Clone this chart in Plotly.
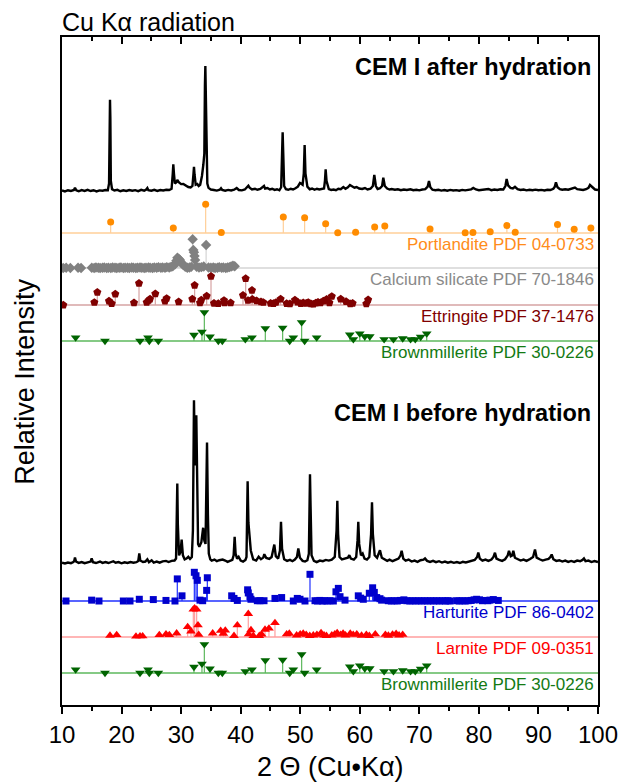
import plotly.graph_objects as go

# ---------------- DATA ----------------
# XRD patterns: (2theta [deg], relative intensity, strongest peak = 100)
after_pattern = [
    (10.0, 0.5), (10.5, -0.3), (11.0, 0.6), (11.5, 0.0), (12.0, 0.8), (12.18, 2.6), (12.4, 0.5), (12.8, -0.2),
    (13.3, 0.7), (13.8, 0.1), (14.3, 0.9), (14.8, 0.0), (15.3, 0.6), (15.8, -0.3), (16.3, 0.5), (16.8, 0.2),
    (17.3, 0.8), (17.7, 0.6), (17.9, 6), (18.0, 60), (18.06, 73), (18.12, 58), (18.2, 8), (18.4, 1.5),
    (18.8, 0.4), (19.3, 0.9), (19.8, -0.2), (20.3, 0.6), (20.8, 0.0), (21.3, 0.8), (21.8, 0.2), (22.3, 0.7),
    (22.8, -0.1), (23.3, 0.9), (23.8, 0.3), (24.1, 1.0), (24.33, 2.4), (24.5, 0.6), (25.0, 0.2), (25.5, 0.9),
    (26.0, 0.1), (26.5, 0.8), (27.0, 0.4), (27.5, 1.0), (28.0, 0.8), (28.4, 1.8), (28.6, 14), (28.69, 21.4),
    (28.8, 14), (28.95, 6), (29.2, 7), (29.36, 8.8), (29.6, 7), (30.0, 5.5), (30.37, 5.6), (30.8, 4.0),
    (31.2, 3.2), (31.6, 2.8), (31.9, 4), (32.08, 14), (32.16, 19.4), (32.26, 13), (32.45, 5), (32.72, 5.6),
    (32.95, 4), (33.2, 5), (33.5, 12), (33.73, 21), (33.9, 30), (34.0, 85), (34.07, 100), (34.14, 80),
    (34.25, 20), (34.4, 6), (34.6, 2.5), (35.0, 1.2), (35.5, 0.8), (36.0, 0.3), (36.5, 1.0), (36.7, 2.2),
    (36.9, 0.8), (37.4, 0.2), (37.9, 0.9), (38.4, 0.4), (38.9, 1.0), (39.33, 2.4), (39.7, 0.8), (40.2, 0.5),
    (40.7, 1.2), (41.1, 3.0), (41.29, 4.2), (41.5, 2.6), (41.9, 1.2), (42.4, 1.8), (42.8, 1.0), (43.3, 1.6),
    (43.7, 2.8), (43.92, 4.0), (44.1, 2.0), (44.5, 2.4), (44.9, 1.2), (45.3, 1.8), (45.7, 0.9), (46.1, 1.4),
    (46.5, 0.6), (46.8, 3), (46.95, 30), (47.05, 47), (47.15, 30), (47.3, 4), (47.6, 1.5), (48.0, 1.0),
    (48.4, 1.8), (48.8, 1.2), (49.2, 2.2), (49.6, 3.5), (49.96, 6.5), (50.15, 6.0), (50.4, 5), (50.6, 14),
    (50.74, 36.8), (50.88, 14), (51.2, 3.5), (51.6, 1.4), (52.0, 2.0), (52.4, 1.0), (52.8, 1.8), (53.2, 1.2),
    (53.6, 1.6), (54.0, 2.0), (54.15, 8), (54.27, 17.4), (54.42, 8), (54.8, 1.5), (55.2, 0.8), (55.6, 1.2),
    (56.0, 0.6), (56.4, 1.8), (56.8, 1.4), (57.24, 3.2), (57.6, 1.8), (58.0, 3.0), (58.35, 4.8), (58.7, 3.6),
    (59.1, 2.6), (59.47, 3.2), (59.9, 2.0), (60.4, 1.6), (60.87, 2.4), (61.3, 1.2), (61.8, 1.8), (62.2, 4),
    (62.44, 12.8), (62.7, 4), (63.0, 1.6), (63.4, 2.2), (63.75, 4), (63.95, 10.6), (64.2, 4), (64.6, 2.0),
    (65.0, 1.2), (65.35, 1.6), (65.9, 1.0), (66.4, 1.4), (66.9, 0.6), (67.4, 1.2), (67.9, 0.8), (68.5, 1.4),
    (69.0, 0.6), (69.5, 1.0), (70.0, 0.5), (70.5, 1.2), (71.0, 1.5), (71.4, 3.5), (71.62, 8.0), (71.85, 3),
    (72.2, 1.0), (72.7, 0.6), (73.2, 1.0), (73.7, 0.3), (74.2, 0.8), (74.7, 0.2), (75.2, 0.9), (75.7, 0.4),
    (76.2, 0.7), (76.7, 0.2), (77.2, 0.9), (77.7, 0.5), (78.2, 1.0), (78.7, 1.3), (79.06, 2.4), (79.5, 1.2),
    (80.0, 0.6), (80.5, 1.0), (81.0, 0.8), (81.6, 1.6), (82.1, 0.7), (82.6, 1.2), (83.1, 0.8), (83.6, 1.4),
    (84.1, 1.2), (84.45, 4), (84.66, 9.6), (84.9, 4.5), (85.3, 2.5), (85.7, 2.0), (86.06, 3.4), (86.5, 1.5),
    (87.0, 0.8), (87.5, 1.2), (88.0, 0.5), (88.5, 1.0), (89.0, 0.6), (89.5, 1.1), (90.0, 0.6), (90.5, 0.9),
    (91.0, 0.4), (91.5, 1.0), (92.0, 0.8), (92.5, 1.8), (92.75, 3.5), (92.94, 7.0), (93.2, 3), (93.6, 1.4),
    (94.0, 1.0), (94.5, 1.4), (95.0, 1.0), (95.5, 1.6), (95.9, 2.2), (96.13, 2.7), (96.5, 1.5), (97.0, 1.2),
    (97.5, 0.8), (98.0, 1.4), (98.4, 2.5), (98.65, 4.8), (99.0, 3.2), (99.5, 1.2), (100.0, 0.8),
]

before_pattern = [
    (10.0, 0.5), (10.5, 0.0), (11.0, 0.6), (11.5, 0.2), (11.9, 0.9), (12.05, 1.6), (12.18, 3.7), (12.35, 1.2),
    (12.8, 0.4), (13.3, 0.9), (13.8, 0.2), (14.3, 0.7), (14.8, 1.2), (14.98, 3.1), (15.2, 0.8), (15.7, 0.3),
    (16.2, 0.8), (16.38, 1.2), (16.8, 0.4), (17.3, 0.9), (17.8, 0.3), (18.3, 0.8), (18.62, 1.4), (19.0, 0.5),
    (19.5, 0.9), (20.0, 0.1), (20.5, 0.7), (21.0, 0.3), (21.5, 0.9), (22.0, 0.5), (22.5, 0.8), (22.8, 1.5),
    (22.98, 6.1), (23.15, 1.8), (23.6, 0.9), (24.0, 1.2), (24.33, 2.6), (24.6, 0.8), (25.05, 2.0), (25.4, 0.6),
    (25.9, 1.2), (26.4, 0.5), (26.9, 1.3), (27.46, 1.6), (27.9, 0.9), (28.4, 1.6), (28.9, 1.8), (29.15, 3.0),
    (29.28, 25), (29.36, 49), (29.45, 24), (29.65, 5), (29.9, 7), (30.09, 14.7), (30.3, 5), (30.6, 2.5),
    (30.9, 3.0), (31.21, 4.1), (31.5, 2.8), (31.8, 4), (31.98, 20), (32.08, 80), (32.16, 100), (32.26, 75),
    (32.4, 60), (32.55, 90.8), (32.7, 40), (32.85, 12), (33.06, 10.2), (33.4, 13), (33.7, 21.9), (33.9, 14),
    (34.1, 12), (34.22, 40), (34.35, 74.1), (34.5, 30), (34.65, 6), (34.9, 2.5), (35.13, 1.8), (35.6, 2.4),
    (36.0, 1.4), (36.4, 2.0), (36.98, 2.4), (37.4, 1.8), (37.8, 1.0), (38.2, 1.6), (38.6, 2.2), (38.82, 5),
    (38.99, 16.3), (39.15, 6), (39.4, 3), (39.66, 4.1), (40.0, 1.8), (40.4, 1.2), (40.8, 2.2), (40.98, 4),
    (41.08, 25), (41.17, 50.4), (41.3, 25), (41.5, 15.3), (41.7, 8), (42.1, 2.5), (42.6, 1.8), (43.02, 4.1),
    (43.4, 2.6), (43.8, 3.6), (43.97, 5.7), (44.3, 3.4), (44.8, 2.8), (45.2, 4.0), (45.48, 9), (45.65, 11.6),
    (45.9, 4.5), (46.3, 3.0), (46.6, 8), (46.77, 25.5), (46.95, 9), (47.3, 2.6), (47.8, 1.6), (48.28, 2.2),
    (48.7, 1.4), (49.1, 2.4), (49.45, 4), (49.68, 9.2), (49.95, 3.5), (50.4, 1.6), (50.8, 1.2), (51.2, 2.0),
    (51.45, 6), (51.56, 35), (51.64, 54.7), (51.74, 35), (51.9, 5), (52.3, 1.6), (52.76, 0.8), (53.3, 1.8),
    (53.8, 1.4), (54.3, 2.2), (54.8, 1.8), (55.3, 2.4), (55.8, 4), (56.1, 20), (56.23, 38.4), (56.36, 18),
    (56.6, 4), (57.0, 2.5), (57.5, 3.2), (58.0, 3.5), (58.24, 5.1), (58.5, 3.0), (59.0, 2.4), (59.4, 4),
    (59.62, 14), (59.75, 25.5), (59.9, 12), (60.2, 5), (60.48, 6.1), (60.8, 3.0), (61.2, 2.4), (61.6, 4),
    (61.9, 18), (62.05, 37.5), (62.2, 18), (62.5, 5), (62.9, 3.5), (63.39, 8.1), (63.7, 3.5), (64.1, 2.5),
    (64.6, 1.6), (65.0, 2.4), (65.5, 1.4), (66.0, 2.2), (66.5, 3), (66.85, 5), (67.03, 7.8), (67.3, 3.0),
    (67.7, 1.8), (68.2, 2.4), (68.7, 1.2), (69.2, 1.8), (69.7, 1.0), (70.2, 2.0), (70.7, 2.4), (70.95, 3.1),
    (71.3, 1.6), (71.8, 1.0), (72.3, 1.6), (72.8, 0.8), (73.3, 1.4), (73.8, 0.6), (74.3, 1.2), (74.8, 0.5),
    (75.3, 1.0), (75.8, 0.4), (76.3, 0.9), (76.8, 0.3), (77.3, 1.0), (77.8, 0.6), (78.3, 1.2), (78.8, 1.6),
    (79.3, 2.2), (79.7, 4), (79.9, 6.7), (80.15, 3), (80.6, 1.8), (81.1, 2.4), (81.6, 1.6), (82.1, 2.4),
    (82.45, 4), (82.7, 6.6), (82.95, 3), (83.4, 2.2), (83.9, 1.6), (84.4, 2.6), (84.85, 5), (85.05, 7.8),
    (85.35, 4.5), (85.6, 5), (85.78, 7.8), (86.05, 3.5), (86.5, 2.6), (87.0, 1.8), (87.5, 2.4), (88.0, 1.6),
    (88.6, 2.8), (89.1, 4), (89.42, 8.6), (89.7, 3.6), (90.2, 2.6), (90.7, 1.8), (91.2, 2.4), (91.7, 2.8),
    (92.0, 4), (92.22, 5.5), (92.5, 2.6), (93.0, 1.6), (93.5, 2.0), (94.0, 1.2), (94.5, 1.8), (95.0, 1.0),
    (95.5, 1.6), (96.0, 1.0), (96.5, 1.8), (97.0, 1.4), (97.4, 2.2), (97.64, 3.1), (97.9, 1.4), (98.4, 1.8),
    (98.9, 0.9), (99.4, 1.5), (100.0, 0.9),
]

# Reference stick patterns: (2theta [deg], relative intensity %)
portlandite = [
    (18.17, 38), (28.69, 17), (34.12, 100), (36.75, 2), (47.16, 56), (50.74, 53), (54.27, 32), (56.3, 1),
    (59.3, 3), (62.5, 21), (64.2, 24), (71.8, 14), (77.7, 1), (79.0, 2), (81.9, 4), (84.7, 26), (86.1, 3),
    (93.2, 30), (96.0, 13), (98.8, 17),
]
calcium_silicate = [
    (10.2, 0), (10.7, 1), (11.4, 0), (12.7, 1), (13.2, 0), (15.0, 1), (15.4, 0), (15.7, 2), (16.1, 1),
    (16.4, 0), (16.8, 1), (17.1, 2), (17.5, 0), (17.8, 1), (18.2, 0), (18.5, 2), (18.9, 1), (19.2, 0),
    (19.6, 1), (19.9, 2), (20.3, 0), (20.6, 1), (21.0, 1), (21.3, 0), (21.7, 2), (22.0, 1), (22.4, 0),
    (22.7, 1), (23.1, 2), (23.4, 1), (23.8, 0), (24.1, 1), (24.5, 2), (24.8, 1), (25.2, 0), (25.5, 2),
    (25.9, 1), (26.2, 3), (26.6, 1), (26.9, 2), (27.3, 1), (27.6, 3), (28.0, 2), (28.3, 4), (28.6, 6),
    (28.97, 13), (29.2, 25), (29.37, 36), (29.6, 32), (29.8, 28), (30.1, 18), (30.37, 10), (30.7, 4),
    (31.04, 1), (31.4, 2), (31.7, 4), (31.94, 100), (32.05, 63), (32.15, 55), (32.25, 42), (32.35, 28),
    (32.6, 4), (33.0, 2), (33.4, 3), (33.8, 5), (34.2, 80), (34.6, 2), (35.0, 1), (35.4, 2), (35.7, 0),
    (36.1, 1), (36.4, 3), (36.8, 1), (37.1, 2), (37.5, 0), (37.8, 2), (38.1, 3), (38.4, 5), (38.7, 8),
    (39.0, 6),
]
ettringite = [
    (10.22, 0), (15.43, 9), (15.93, 44), (17.89, 14), (18.34, 5), (18.95, 38), (22.09, 8), (22.93, 76),
    (24.22, 9), (24.55, 16), (24.78, 21), (25.67, 39), (27.29, 14), (27.57, 23), (29.59, 11), (31.88, 21),
    (32.27, 69), (33.17, 8), (33.39, 17), (34.29, 31), (35.02, 100), (35.52, 6), (36.25, 5), (37.2, 16),
    (37.31, 8), (38.32, 8), (40.39, 34), (40.84, 92), (41.23, 16), (41.9, 51), (41.96, 20), (42.68, 15),
    (43.41, 11), (43.8, 9), (45.03, 6), (45.5, 5), (45.93, 9), (46.71, 21), (47.72, 5), (48.27, 4),
    (49.11, 17), (49.56, 10), (50.1, 5), (50.51, 8), (51.0, 6), (51.35, 9), (51.8, 4), (52.2, 3),
    (52.6, 7), (52.98, 10), (53.4, 8), (53.88, 14), (54.44, 20), (54.9, 8), (55.3, 30), (56.8, 21),
    (57.7, 12), (58.4, 4), (58.8, 6), (61.1, 4), (61.4, 18),
]
brownmillerite = [
    (12.29, 12), (17.22, 0), (23.1, 0), (24.44, 12), (24.66, 0), (26.17, 0), (32.16, 21), (33.5, 32),
    (33.9, 100), (34.85, 15), (36.25, 0), (36.92, 0), (40.78, 6), (41.9, 12), (44.14, 44), (47.05, 46),
    (48.23, 0), (48.84, 12), (50.24, 65), (50.74, 0), (52.76, 12), (58.32, 22), (58.92, 6), (60.0, 26),
    (60.84, 16), (61.68, 16), (64.09, 6), (65.65, 6), (67.21, 9), (68.53, 6), (69.32, 6), (70.22, 14),
    (71.24, 26),
]
harturite = [
    (10.67, 0), (14.98, 3), (16.21, 0), (20.3, 0), (21.42, 0), (22.98, 6), (25.33, 5), (27.46, 2),
    (28.97, 0), (29.36, 77), (30.15, 18), (32.22, 100), (32.5, 88), (32.72, 72), (33.17, 3), (33.62, 1),
    (34.29, 37), (34.4, 81), (38.49, 18), (38.88, 9), (39.44, 2), (41.17, 39), (41.28, 28), (41.56, 15),
    (41.73, 6), (42.8, 1), (43.24, 1), (43.92, 1), (45.76, 9), (46.88, 12), (48.84, 0), (49.51, 9),
    (49.96, 6), (50.8, 0), (51.64, 93), (52.48, 1), (52.9, 0), (53.3, 2), (53.7, 0), (54.1, 1), (54.5, 0),
    (55.0, 1), (55.56, 0), (56.0, 32), (56.4, 44), (56.68, 15), (57.52, 3), (59.75, 18), (60.15, 10),
    (60.59, 6), (61.6, 27), (62.16, 46), (62.44, 30), (62.84, 12), (63.39, 8), (63.67, 3), (64.79, 1),
    (65.3, 0), (65.8, 1), (66.3, 0), (66.8, 2), (67.4, 4), (67.9, 1), (68.4, 0), (68.9, 1), (69.4, 0),
    (69.9, 1), (70.4, 0), (70.9, 1), (71.4, 0), (71.9, 1), (72.4, 0), (72.9, 1), (73.4, 0), (73.9, 1),
    (74.4, 0), (74.8, 1), (75.14, 0), (76.26, 1), (76.7, 0), (77.2, 1), (77.7, 0), (78.2, 1), (78.7, 2),
    (79.2, 4), (79.62, 6), (80.1, 4), (80.6, 1), (81.0, 2), (81.5, 1), (81.86, 3), (82.42, 5), (83.26, 2),
]
larnite = [
    (18.06, 5), (19.18, 7), (22.42, 2), (23.1, 3), (23.54, 3), (26.34, 7), (27.46, 10), (28.02, 7),
    (29.25, 13), (31.1, 35), (31.66, 20), (32.05, 96), (32.27, 100), (32.61, 96), (32.83, 41), (32.95, 8),
    (35.3, 13), (36.64, 22), (37.09, 12), (37.42, 23), (38.88, 4), (39.44, 41), (41.28, 81), (41.34, 10),
    (41.73, 24), (42.12, 4), (43.13, 4), (43.52, 9), (44.09, 26), (44.75, 30), (45.76, 49), (47.72, 10),
    (48.17, 12), (49.4, 6), (50.0, 10), (50.5, 12), (51.0, 8), (51.6, 4), (52.2, 6), (52.8, 8), (53.5, 14),
    (54.0, 6), (54.4, 4), (55.3, 6), (55.8, 10), (56.2, 14), (56.8, 8), (57.2, 12), (57.6, 6), (58.4, 12),
    (58.9, 8), (59.5, 10), (60.3, 5), (61.1, 8), (61.6, 4), (62.6, 10), (64.3, 8), (64.8, 5), (65.5, 9),
    (66.1, 11), (66.6, 6), (67.2, 8),
]

x_ticks = [10, 20, 30, 40, 50, 60, 70, 80, 90, 100]

# ---------------- LAYOUT (stacking offsets, axis units = px above the x axis) ----------------
AFTER_BASE, AFTER_SCALE = 514.0, 1.25
BEFORE_BASE, BEFORE_SCALE = 141.5, 1.633
STICK_SCALE = 0.287
FONT = "Liberation Sans, Arial, sans-serif"

phases = [
    # name, data, baseline, symbol, marker colour, line colour, label colour, marker size
    ("Portlandite PDF 04-0733", portlandite, 472, "circle", "#FF8C00", "#FFCF99", "#FF8C1A", 7),
    ("Calcium silicate PDF 70-1846", calcium_silicate, 437, "diamond", "#808080", "#D4D4D4", "#8A8A8A", 8),
    ("Ettringite PDF 37-1476", ettringite, 400, "pentagon", "#800000", "#D6A3A3", "#800000", 8.5),
    ("Brownmillerite PDF 30-0226", brownmillerite, 364, "triangle-down", "#006400", "#5DB85D", "#137A13", 8.5),
    ("Harturite PDF 86-0402", harturite, 104, "square", "#0000CD", "#2030FF", "#0000CC", 7),
    ("Larnite PDF 09-0351", larnite, 68, "triangle-up", "#FF0000", "#FF9E9E", "#FF0000", 8.5),
    ("Brownmillerite PDF 30-0226", brownmillerite, 32, "triangle-down", "#006400", "#5DB85D", "#137A13", 8.5),
]

fig = go.Figure()

# patterns
for pat, base, sc in [(after_pattern, AFTER_BASE, AFTER_SCALE), (before_pattern, BEFORE_BASE, BEFORE_SCALE)]:
    fig.add_trace(go.Scatter(
        x=[p[0] for p in pat], y=[base + p[1] * sc for p in pat], mode="lines",
        line=dict(color="black", width=2.4), hoverinfo="skip", showlegend=False))

annotations = []
for name, data, base, sym, mcol, lcol, tcol, msize in phases:
    # baseline
    fig.add_trace(go.Scatter(x=[10, 100], y=[base, base], mode="lines",
                             line=dict(color=lcol, width=1.5), hoverinfo="skip", showlegend=False))
    sx, sy = [], []
    for t, i in data:
        sx += [t, t, None]
        sy += [base, base + i * STICK_SCALE, None]
    fig.add_trace(go.Scatter(x=sx, y=sy, mode="lines", line=dict(color=lcol, width=1.2),
                             hoverinfo="skip", showlegend=False))
    fig.add_trace(go.Scatter(x=[d[0] for d in data], y=[base + d[1] * STICK_SCALE for d in data],
                             mode="markers", marker=dict(symbol=sym, size=msize, color=mcol, line=dict(width=0)),
                             hoverinfo="skip", showlegend=False))
    annotations.append(dict(text=name, xref="paper", x=1, xanchor="right", xshift=-2,
                            yref="y", y=base - 11, yanchor="middle", showarrow=False,
                            font=dict(family=FONT, size=17, color=tcol)))

# invisible trace to anchor the top tick axis
fig.add_trace(go.Scatter(x=[10, 100], y=[0, 0], xaxis="x2", mode="markers",
                         marker=dict(opacity=0), hoverinfo="skip", showlegend=False))

annotations += [
    dict(text="Cu K\u03b1 radiation", xref="paper", x=0, xanchor="left", xshift=-2,
         yref="paper", y=1.023, yanchor="middle", showarrow=False,
         font=dict(family=FONT, size=25, color="black")),
    dict(text="<b>CEM I after hydration</b>", xref="paper", x=1, xanchor="right", xshift=-5,
         yref="y", y=638, yanchor="middle", showarrow=False,
         font=dict(family=FONT, size=23.5, color="black")),
    dict(text="<b>CEM I before hydration</b>", xref="paper", x=1, xanchor="right", xshift=-5,
         yref="y", y=292, yanchor="middle", showarrow=False,
         font=dict(family=FONT, size=23.5, color="black")),
    dict(text="Relative Intensity", xref="paper", x=-0.069, xanchor="center",
         yref="paper", y=0.484, yanchor="middle", textangle=-90, showarrow=False,
         font=dict(family=FONT, size=27, color="black")),
    dict(text="2 \u0398 (Cu\u2022K\u03b1)", xref="paper", x=0.5, xanchor="center",
         yref="paper", y=-0.093, yanchor="middle", showarrow=False,
         font=dict(family=FONT, size=27, color="black")),
]

fig.update_layout(
    width=622, height=782,
    margin=dict(l=62, r=24, t=37, b=77, pad=0, autoexpand=False),
    paper_bgcolor="white", plot_bgcolor="white",
    showlegend=False,
    annotations=annotations,
    xaxis=dict(range=[10, 100], tickvals=x_ticks, ticktext=[str(v) for v in x_ticks],
               automargin=False,
               ticks="outside", ticklen=7, tickwidth=1.5, tickcolor="black",
               minor=dict(ticks="outside", ticklen=4, tickwidth=1.5, tickcolor="black", dtick=5, tick0=5),
               showline=True, mirror=True, linecolor="black", linewidth=1.5,
               showgrid=False, zeroline=False,
               tickfont=dict(family=FONT, size=24, color="black")),
    xaxis2=dict(range=[10, 100], overlaying="x", side="top", anchor="y", automargin=False,
                tickvals=x_ticks, ticks="inside", ticklen=7, tickwidth=1.5, tickcolor="black",
                minor=dict(ticks="inside", ticklen=4, tickwidth=1.5, tickcolor="black", dtick=5, tick0=5),
                showticklabels=False, showline=False, showgrid=False, zeroline=False),
    yaxis=dict(range=[0, 668], showticklabels=False, ticks="", showgrid=False, zeroline=False,
               automargin=False,
               showline=True, mirror=True, linecolor="black", linewidth=1.5),
)

fig.write_html("out.html")
